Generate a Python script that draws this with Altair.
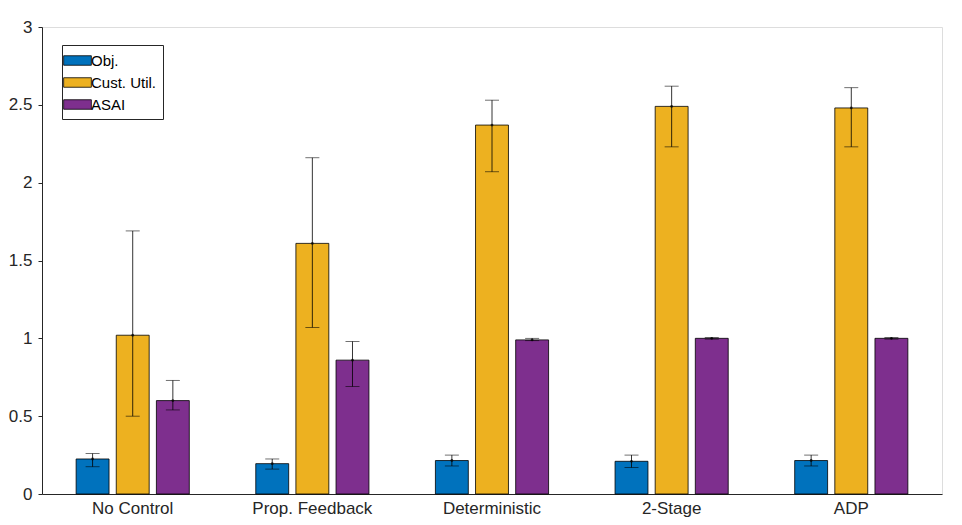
import altair as alt
import pandas as pd

methods = ["No Control", "Prop. Feedback", "Deterministic", "2-Stage", "ADP"]
series = ["Obj.", "Cust. Util.", "ASAI"]
colors = ["#0072BD", "#EDB120", "#7E2F8E"]

obj = [0.225, 0.195, 0.215, 0.21, 0.215]
obj_lo = [0.175, 0.16, 0.18, 0.17, 0.18]
obj_hi = [0.26, 0.225, 0.25, 0.25, 0.25]

cust = [1.02, 1.61, 2.37, 2.49, 2.48]
cust_lo = [0.50, 1.07, 2.07, 2.23, 2.23]
cust_hi = [1.69, 2.16, 2.53, 2.62, 2.61]

asai = [0.60, 0.86, 0.99, 1.0, 1.0]
asai_lo = [0.54, 0.69, 0.985, 0.995, 0.995]
asai_hi = [0.73, 0.98, 1.0, 1.005, 1.005]

rows = []
for s, v, lo, hi in [("Obj.", obj, obj_lo, obj_hi),
                     ("Cust. Util.", cust, cust_lo, cust_hi),
                     ("ASAI", asai, asai_lo, asai_hi)]:
    for m, a, b, c in zip(methods, v, lo, hi):
        rows.append({"method": m, "series": s, "value": a, "lo": b, "hi": c})
df = pd.DataFrame(rows)

font = "Liberation Sans"
xs = alt.X("method:N", sort=methods, title=None,
           scale=alt.Scale(paddingInner=0.37, paddingOuter=0.19),
           axis=alt.Axis(labelAngle=0, labelFontSize=17, labelColor="#262626",
                         tickSize=0, domainColor="#262626", labelPadding=6))
off = alt.XOffset("series:N", sort=series, scale=alt.Scale(paddingInner=0.18))

base = alt.Chart(df)

bars = base.mark_bar(stroke="black", strokeWidth=0.8).encode(
    x=xs, xOffset=off,
    y=alt.Y("value:Q", title=None,
            scale=alt.Scale(domain=[0, 3], nice=False),
            axis=alt.Axis(values=[0, 0.5, 1, 1.5, 2, 2.5, 3], format="~g",
                          labelFontSize=17, labelColor="#262626", grid=False,
                          tickSize=4, domainColor="#262626", tickColor="#262626",
                          labelPadding=6)),
    color=alt.Color("series:N", sort=series,
                    scale=alt.Scale(domain=series, range=colors),
                    legend=alt.Legend(title=None, orient="none", legendX=20, legendY=18,
                                      symbolType="M-1.6,-0.55h3.2v1.1h-3.2z",
                                      symbolSize=300, symbolStrokeColor="black",
                                      symbolStrokeWidth=0.8, labelFontSize=15,
                                      labelFont=font, strokeColor="#262626",
                                      fillColor="white", padding=6, rowPadding=4,
                                      symbolOpacity=1)),
)

rules = base.mark_rule(color="black", strokeWidth=0.8).encode(
    x=xs, xOffset=off, y="lo:Q", y2="hi:Q")
caps_lo = base.mark_tick(color="black", size=14, thickness=0.8).encode(
    x=xs, xOffset=off, y="lo:Q")
caps_hi = base.mark_tick(color="black", size=14, thickness=0.8).encode(
    x=xs, xOffset=off, y="hi:Q")
dots = base.mark_point(color="black", filled=True, size=8).encode(
    x=xs, xOffset=off, y="value:Q")

chart = (
    alt.layer(bars, rules, caps_lo, caps_hi, dots)
    .properties(width=900, height=467, padding={"left": 0, "top": 10, "right": 10, "bottom": 5})
    .configure_view(stroke="#262626", strokeWidth=1)
    .configure_axis(labelFont=font)
    .configure(background="white")
)

chart.save("out.html", embed_options={"renderer": "svg", "actions": False})
